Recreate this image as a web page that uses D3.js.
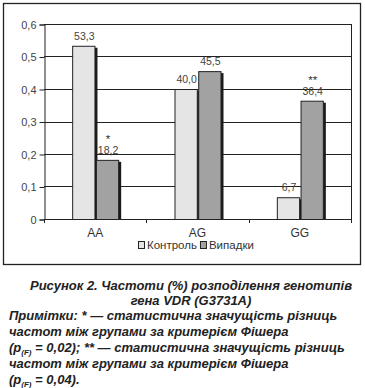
<!DOCTYPE html>
<html><head><meta charset="utf-8">
<script src="https://cdn.jsdelivr.net/npm/d3@7"></script>
<style>body{margin:0;background:#fff}svg{display:block}</style>
</head><body>
<svg id="c" width="365" height="388"></svg>
<script>
const categories = ["AA", "AG", "GG"];
const seriesNames = ["Контроль", "Випадки"];
const control = [0.533, 0.400, 0.067];
const cases = [0.182, 0.455, 0.364];
const controlLabels = ["53,3", "40,0", "6,7"];
const casesLabels = ["18,2", "45,5", "36,4"];
const casesMarks = ["*", "", "**"];
const yTicks = [0, 0.1, 0.2, 0.3, 0.4, 0.5, 0.6];
const yTickLabels = ["0", "0,1", "0,2", "0,3", "0,4", "0,5", "0,6"];

const svg = d3.select("#c");
const font = "'Liberation Sans', Arial, sans-serif";
const L = 44, R = 351, T = 24, B = 219;

// outer frame
svg.append("rect").attr("x", 3.5).attr("y", 3.5).attr("width", 357).attr("height", 261)
  .attr("fill", "none").attr("stroke", "#222").attr("stroke-width", 1.3);

const y = d3.scaleLinear().domain([0, 0.6]).range([B, T]);
const x0 = d3.scaleBand().domain(categories).range([L, R]);
const x1 = d3.scaleBand().domain(seriesNames).range([0, 46]).paddingInner(0.06);
const barOff = x0.bandwidth() / 2 - 23;

// gridlines
svg.append("g").selectAll("line").data(yTicks.slice(1)).join("line")
  .attr("x1", L).attr("x2", R).attr("y1", d => Math.round(y(d)) + 0.5).attr("y2", d => Math.round(y(d)) + 0.5)
  .attr("stroke", "#222").attr("stroke-width", 1);
// right border
svg.append("line").attr("x1", R + 0.5).attr("x2", R + 0.5).attr("y1", T).attr("y2", B + 4)
  .attr("stroke", "#222");

// y axis
const yAxis = d3.axisLeft(y).tickValues(yTicks).tickFormat((d, i) => yTickLabels[i]).tickSize(5).tickPadding(3);
const gy = svg.append("g").attr("transform", `translate(${L + 0.5},0.5)`).call(yAxis);
gy.select(".domain").attr("stroke", "#222");
gy.selectAll(".tick line").attr("stroke", "#222");
gy.selectAll("text").attr("font-family", font).attr("font-size", 11).attr("fill", "#444");

// x axis
const xAxis = d3.axisBottom(x0).tickSize(0).tickPadding(8);
const gx = svg.append("g").attr("transform", `translate(0,${B + 0.5})`).call(xAxis);
gx.select(".domain").remove();
svg.append("line").attr("x1", L).attr("x2", R + 1).attr("y1", B + 0.5).attr("y2", B + 0.5).attr("stroke", "#222");
svg.append("g").selectAll("line").data(d3.range(categories.length + 1)).join("line")
  .attr("x1", i => Math.round(L + i * x0.step()) + 0.5).attr("x2", i => Math.round(L + i * x0.step()) + 0.5)
  .attr("y1", B).attr("y2", B + 4).attr("stroke", "#222");
gx.selectAll("text").attr("font-family", font).attr("font-size", 12).attr("fill", "#333").attr("dy", "0.75em");

// bars
const data = categories.map((c, i) => ({c, vals: [
  {s: seriesNames[0], v: control[i], lab: controlLabels[i], mark: "", fill: "#e5e5e5"},
  {s: seriesNames[1], v: cases[i], lab: casesLabels[i], mark: casesMarks[i], fill: "#a2a2a2"}]}));
const groups = svg.append("g").selectAll("g").data(data).join("g")
  .attr("transform", d => `translate(${x0(d.c) + barOff},0)`);
// shadows
groups.selectAll("rect.sh").data(d => d.vals).join("rect").attr("class", "sh")
  .attr("x", d => x1(d.s) + 3).attr("y", d => y(d.v) + 2)
  .attr("width", x1.bandwidth()).attr("height", d => B - y(d.v) - 2).attr("fill", "#1a1a1a");
groups.selectAll("rect.bar").data(d => d.vals).join("rect").attr("class", "bar")
  .attr("x", d => x1(d.s) + 0.5).attr("y", d => y(d.v) + 0.5)
  .attr("width", x1.bandwidth()).attr("height", d => B - y(d.v))
  .attr("fill", d => d.fill).attr("stroke", "#222").attr("stroke-width", 1);
groups.selectAll("text.lab").data(d => d.vals).join("text").attr("class", "lab")
  .attr("x", d => x1(d.s) + x1.bandwidth() / 2 + 1).attr("y", d => y(d.v) - 6)
  .attr("text-anchor", "middle").attr("font-family", font).attr("font-size", 10.5).attr("fill", "#444")
  .text(d => d.lab);
groups.selectAll("text.mk").data(d => d.vals.filter(v => v.mark)).join("text").attr("class", "mk")
  .attr("x", d => x1(d.s) + x1.bandwidth() / 2 + 1).attr("y", d => y(d.v) - 17)
  .attr("text-anchor", "middle").attr("font-family", font).attr("font-size", 11.5).attr("fill", "#333")
  .text(d => d.mark);

// legend
const leg = svg.append("g").attr("transform", "translate(138,249)");
const legFills = ["#e5e5e5", "#a2a2a2"];
let lx = 0;
seriesNames.forEach((s, i) => {
  leg.append("rect").attr("x", lx + 0.5).attr("y", -7.5).attr("width", 6).attr("height", 7)
    .attr("fill", legFills[i]).attr("stroke", "#222");
  const t = leg.append("text").attr("x", lx + 9).attr("y", 0).attr("font-family", font).attr("font-size", 11.5)
    .attr("fill", "#333").text(s);
  lx += 9 + t.node().getComputedTextLength() + 3;
});

// caption
const cap = svg.append("g").attr("font-family", font).attr("font-weight", "bold").attr("font-style", "italic")
  .attr("font-size", 13).attr("fill", "#222");
cap.append("text").attr("x", 191).attr("y", 290).attr("text-anchor", "middle").text("Рисунок 2. Частоти (%) розподілення генотипів");
cap.append("text").attr("x", 191).attr("y", 305).attr("text-anchor", "middle").text("гена VDR (G3731A)");
cap.append("text").attr("x", 9).attr("y", 320).text("Примітки: * — статистична значущість різниць");
cap.append("text").attr("x", 9).attr("y", 336).text("частот між групами за критерієм Фішера");
const t5 = cap.append("text").attr("x", 9).attr("y", 352);
t5.append("tspan").text("(р");
t5.append("tspan").attr("font-size", 8).attr("dy", 3).text("(F)");
t5.append("tspan").attr("dy", -3).text(" = 0,02); ** — статистична значущість різниць");
cap.append("text").attr("x", 9).attr("y", 368).text("частот між групами за критерієм Фішера");
const t7 = cap.append("text").attr("x", 9).attr("y", 384);
t7.append("tspan").text("(р");
t7.append("tspan").attr("font-size", 8).attr("dy", 3).text("(F)");
t7.append("tspan").attr("dy", -3).text(" = 0,04).");
</script>
</body></html>
